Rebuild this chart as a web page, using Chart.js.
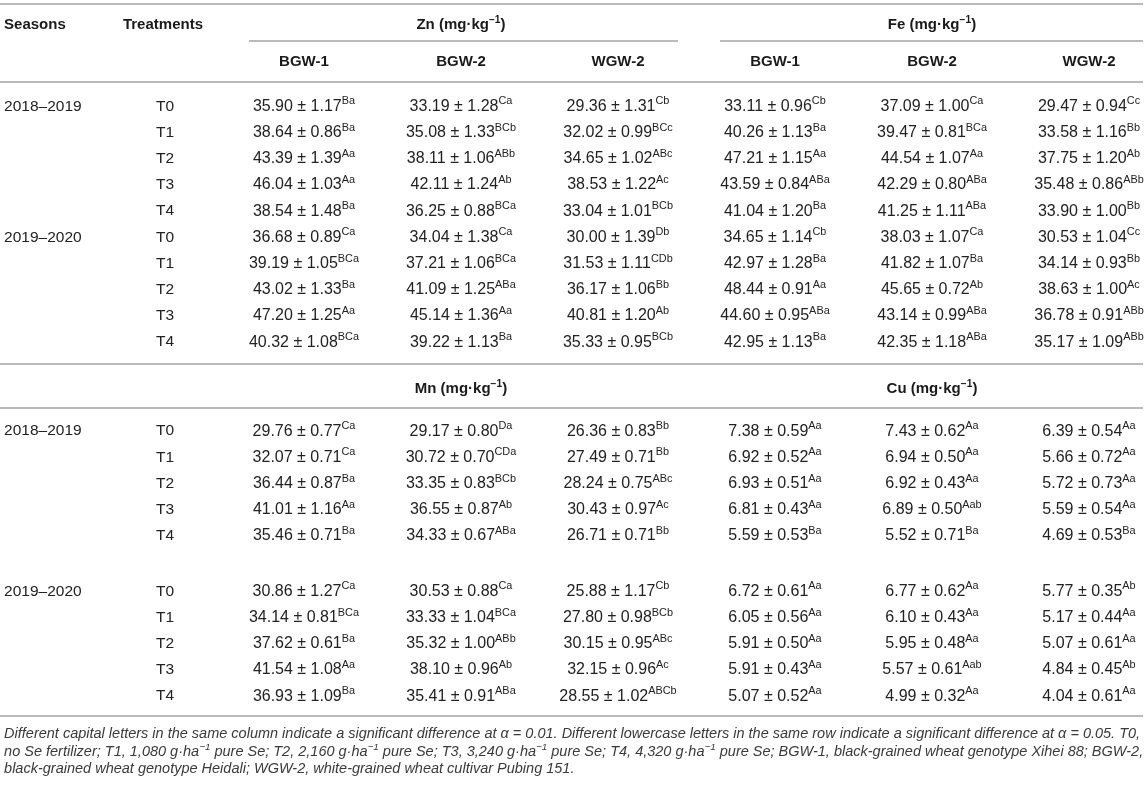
<!DOCTYPE html>
<html>
<head>
<meta charset="utf-8">
<title>Zn, Fe, Mn and Cu in wheat grain</title>
<script src="https://cdn.jsdelivr.net/npm/chart.js@4.4.1/dist/chart.umd.min.js"></script>
<style>
  html, body { margin: 0; padding: 0; background: #fff; }
  canvas { display: block; }
</style>
</head>
<body>
<canvas id="tbl" width="1146" height="785"></canvas>
<script>
// table values, read row by row: 2018-2019 T0..T4, then 2019-2020 T0..T4
// columns are BGW-1, BGW-2, WGW-2
const seasons = ['2018–2019', '2019–2020'];
const treatments = ['T0', 'T1', 'T2', 'T3', 'T4'];
const genotypes = ['BGW-1', 'BGW-2', 'WGW-2'];
const elements = ['Zn', 'Fe', 'Mn', 'Cu'];
const unitLabel = ' (mg·kg^{−1})';

const znMean = [
  [35.90, 33.19, 29.36], [38.64, 35.08, 32.02], [43.39, 38.11, 34.65], [46.04, 42.11, 38.53], [38.54, 36.25, 33.04],
  [36.68, 34.04, 30.00], [39.19, 37.21, 31.53], [43.02, 41.09, 36.17], [47.20, 45.14, 40.81], [40.32, 39.22, 35.33]
];
const znSd = [
  [1.17, 1.28, 1.31], [0.86, 1.33, 0.99], [1.39, 1.06, 1.02], [1.03, 1.24, 1.22], [1.48, 0.88, 1.01],
  [0.89, 1.38, 1.39], [1.05, 1.06, 1.11], [1.33, 1.25, 1.06], [1.25, 1.36, 1.20], [1.08, 1.13, 0.95]
];
const znSig = [
  ['Ba', 'Ca', 'Cb'], ['Ba', 'BCb', 'BCc'], ['Aa', 'ABb', 'ABc'], ['Aa', 'Ab', 'Ac'], ['Ba', 'BCa', 'BCb'],
  ['Ca', 'Ca', 'Db'], ['BCa', 'BCa', 'CDb'], ['Ba', 'ABa', 'Bb'], ['Aa', 'Aa', 'Ab'], ['BCa', 'Ba', 'BCb']
];

const feMean = [
  [33.11, 37.09, 29.47], [40.26, 39.47, 33.58], [47.21, 44.54, 37.75], [43.59, 42.29, 35.48], [41.04, 41.25, 33.90],
  [34.65, 38.03, 30.53], [42.97, 41.82, 34.14], [48.44, 45.65, 38.63], [44.60, 43.14, 36.78], [42.95, 42.35, 35.17]
];
const feSd = [
  [0.96, 1.00, 0.94], [1.13, 0.81, 1.16], [1.15, 1.07, 1.20], [0.84, 0.80, 0.86], [1.20, 1.11, 1.00],
  [1.14, 1.07, 1.04], [1.28, 1.07, 0.93], [0.91, 0.72, 1.00], [0.95, 0.99, 0.91], [1.13, 1.18, 1.09]
];
const feSig = [
  ['Cb', 'Ca', 'Cc'], ['Ba', 'BCa', 'Bb'], ['Aa', 'Aa', 'Ab'], ['ABa', 'ABa', 'ABb'], ['Ba', 'ABa', 'Bb'],
  ['Cb', 'Ca', 'Cc'], ['Ba', 'Ba', 'Bb'], ['Aa', 'Ab', 'Ac'], ['ABa', 'ABa', 'ABb'], ['Ba', 'ABa', 'ABb']
];

const mnMean = [
  [29.76, 29.17, 26.36], [32.07, 30.72, 27.49], [36.44, 33.35, 28.24], [41.01, 36.55, 30.43], [35.46, 34.33, 26.71],
  [30.86, 30.53, 25.88], [34.14, 33.33, 27.80], [37.62, 35.32, 30.15], [41.54, 38.10, 32.15], [36.93, 35.41, 28.55]
];
const mnSd = [
  [0.77, 0.80, 0.83], [0.71, 0.70, 0.71], [0.87, 0.83, 0.75], [1.16, 0.87, 0.97], [0.71, 0.67, 0.71],
  [1.27, 0.88, 1.17], [0.81, 1.04, 0.98], [0.61, 1.00, 0.95], [1.08, 0.96, 0.96], [1.09, 0.91, 1.02]
];
const mnSig = [
  ['Ca', 'Da', 'Bb'], ['Ca', 'CDa', 'Bb'], ['Ba', 'BCb', 'ABc'], ['Aa', 'Ab', 'Ac'], ['Ba', 'ABa', 'Bb'],
  ['Ca', 'Ca', 'Cb'], ['BCa', 'BCa', 'BCb'], ['Ba', 'ABb', 'ABc'], ['Aa', 'Ab', 'Ac'], ['Ba', 'ABa', 'ABCb']
];

const cuMean = [
  [7.38, 7.43, 6.39], [6.92, 6.94, 5.66], [6.93, 6.92, 5.72], [6.81, 6.89, 5.59], [5.59, 5.52, 4.69],
  [6.72, 6.77, 5.77], [6.05, 6.10, 5.17], [5.91, 5.95, 5.07], [5.91, 5.57, 4.84], [5.07, 4.99, 4.04]
];
const cuSd = [
  [0.59, 0.62, 0.54], [0.52, 0.50, 0.72], [0.51, 0.43, 0.73], [0.43, 0.50, 0.54], [0.53, 0.71, 0.53],
  [0.61, 0.62, 0.35], [0.56, 0.43, 0.44], [0.50, 0.48, 0.61], [0.43, 0.61, 0.45], [0.52, 0.32, 0.61]
];
const cuSig = [
  ['Aa', 'Aa', 'Aa'], ['Aa', 'Aa', 'Aa'], ['Aa', 'Aa', 'Aa'], ['Aa', 'Aab', 'Aa'], ['Ba', 'Ba', 'Ba'],
  ['Aa', 'Aa', 'Ab'], ['Aa', 'Aa', 'Aa'], ['Aa', 'Aa', 'Aa'], ['Aa', 'Aab', 'Ab'], ['Aa', 'Aa', 'Aa']
];

const notes = [
  'Different capital letters in the same column indicate a significant difference at α = 0.01. Different lowercase letters in the same row indicate a significant difference at α = 0.05. T0,',
  'no Se fertilizer; T1, 1,080 g·ha^{−1} pure Se; T2, 2,160 g·ha^{−1} pure Se; T3, 3,240 g·ha^{−1} pure Se; T4, 4,320 g·ha^{−1} pure Se; BGW-1, black-grained wheat genotype Xihei 88; BGW-2,',
  'black-grained wheat genotype Heidali; WGW-2, white-grained wheat cultivar Pubing 151.'
];

// ---- layout, in scale units (x: one column = 1, y: one table row = 1) ----
const X_MIN = -1.936, X_MAX = 5.363;
const Y_MIN = -4.008, Y_MAX = 25.954;
const SEASON_X = -1.91, TREAT_HEAD_X = -1.153, TREAT_X = -0.943, RULE_END = 5.344;
const L = {
  topRule: -3.855, head: -3.09, groupRule: -2.443, subHead: -1.679, headRule: -0.878,
  midRule: 9.885, head2: 10.8, head2Rule: 11.565,
  block2a: 12.4, block2b: 18.51, bottomRule: 23.32, note: 23.97, noteStep: 0.668
};

const FONT = '"Liberation Sans", Arial, Helvetica, sans-serif';

const blocks = [
  { sets: [[znMean, znSd, znSig], [feMean, feSd, feSig]], names: [elements[0], elements[1]],
    headY: L.head, rowY: r => r },
  { sets: [[mnMean, mnSd, mnSig], [cuMean, cuSd, cuSig]], names: [elements[2], elements[3]],
    headY: L.head2, rowY: r => (r < 5 ? L.block2a + r : L.block2b + r - 5) }
];

const cells = [], rowLabels = [], groupHeads = [];
blocks.forEach(b => {
  b.sets.forEach(([mean, sd, sig], k) => {
    groupHeads.push({ x: k * 3 + 1, y: b.headY, label: b.names[k] + unitLabel });
    mean.forEach((row, r) => row.forEach((m, g) => {
      cells.push({ x: k * 3 + g, y: b.rowY(r),
        label: m.toFixed(2) + ' ± ' + sd[r][g].toFixed(2) + '^{' + sig[r][g] + '}' });
    }));
  });
  seasons.forEach((s, si) => {
    rowLabels.push({ x: SEASON_X, y: b.rowY(si * 5), label: s });
    treatments.forEach((t, ti) => rowLabels.push({ x: TREAT_X, y: b.rowY(si * 5 + ti), label: t }));
  });
});

const leftHeads = [
  { x: SEASON_X, y: L.head, label: 'Seasons' },
  { x: TREAT_HEAD_X, y: L.head, label: 'Treatments' }
];
const subHeads = [0, 1].flatMap(k => genotypes.map((g, i) => ({ x: k * 3 + i, y: L.subHead, label: g })));
const noteLines = notes.map((n, i) => ({ x: SEASON_X, y: L.note + i * L.noteStep, label: n }));

function rule(y, x0, x1) {
  return {
    type: 'scatter', showLine: true, data: [{ x: x0, y: y }, { x: x1, y: y }],
    borderColor: '#a3a3a3', borderWidth: 1.5, pointRadius: 0
  };
}

function textSet(data, text) {
  return { type: 'scatter', data: data, pointRadius: 0, showLine: false, text: text };
}

// split "abc^{sup}def" into normal and superscript runs
function richParts(str) {
  const parts = [];
  str.split(/(\^\{[^}]*\})/).forEach(s => {
    if (!s) return;
    if (s.startsWith('^{')) parts.push({ t: s.slice(2, -1), sup: true });
    else parts.push({ t: s, sup: false });
  });
  return parts;
}

function drawRich(ctx, str, x, y, st) {
  const style = (st.italic ? 'italic ' : '') + (st.bold ? 'bold ' : '');
  const mainFont = style + st.size + 'px ' + FONT;
  const supFont = style + (st.size * 0.68).toFixed(1) + 'px ' + FONT;
  const parts = richParts(str);
  let total = 0;
  parts.forEach(p => {
    ctx.font = p.sup ? supFont : mainFont;
    p.w = ctx.measureText(p.t).width;
    total += p.w;
  });
  let cx = st.align === 'center' ? x - total / 2 : x;
  const base = y + st.size * 0.36;
  ctx.fillStyle = st.color;
  ctx.textAlign = 'left';
  ctx.textBaseline = 'alphabetic';
  parts.forEach(p => {
    ctx.font = p.sup ? supFont : mainFont;
    ctx.fillText(p.t, cx, p.sup ? base - st.size * 0.4 : base);
    cx += p.w;
  });
}

const tableText = {
  id: 'tableText',
  afterDatasetsDraw(chart) {
    const ctx = chart.ctx;
    ctx.save();
    chart.data.datasets.forEach((ds, i) => {
      if (!ds.text) return;
      chart.getDatasetMeta(i).data.forEach((pt, j) => drawRich(ctx, ds.data[j].label, pt.x, pt.y, ds.text));
    });
    ctx.restore();
  }
};

const bold = { size: 15, bold: true, color: '#1a1a1a' };

new Chart(document.getElementById('tbl'), {
  type: 'scatter',
  data: {
    datasets: [
      rule(L.topRule, X_MIN, RULE_END),
      rule(L.groupRule, -0.350, 2.382),
      rule(L.groupRule, 2.650, RULE_END),
      rule(L.headRule, X_MIN, RULE_END),
      rule(L.midRule, X_MIN, RULE_END),
      rule(L.head2Rule, X_MIN, RULE_END),
      rule(L.bottomRule, X_MIN, RULE_END),
      textSet(leftHeads, Object.assign({ align: 'left' }, bold)),
      textSet(groupHeads, Object.assign({ align: 'center' }, bold)),
      textSet(subHeads, Object.assign({ align: 'center' }, bold)),
      textSet(rowLabels, { size: 15.5, align: 'left', color: '#222' }),
      textSet(cells, { size: 16, align: 'center', color: '#222' }),
      textSet(noteLines, { size: 14.5, italic: true, align: 'left', color: '#3a3a3a' })
    ]
  },
  options: {
    responsive: false,
    animation: false,
    events: [],
    layout: { padding: 0 },
    scales: {
      x: { type: 'linear', display: false, min: X_MIN, max: X_MAX },
      y: { type: 'linear', display: false, min: Y_MIN, max: Y_MAX, reverse: true }
    },
    plugins: {
      legend: { display: false },
      tooltip: { enabled: false }
    }
  },
  plugins: [tableText]
});
</script>
</body>
</html>
